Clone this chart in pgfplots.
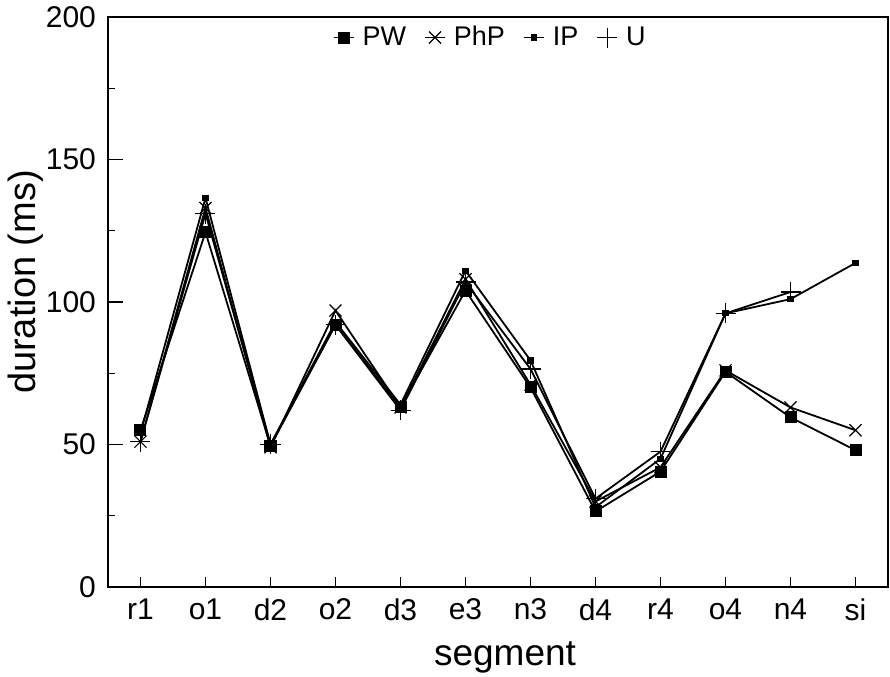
\documentclass[border=0pt]{standalone}
\usepackage{pgfplots}
\pgfplotsset{compat=1.18}
\usepackage{fontspec}
\setmainfont{Liberation Sans}
\begin{document}
\begin{tikzpicture}
\begin{axis}[
  name=ax,
  scale only axis, width=390pt, height=285pt,
  xmin=-0.5, xmax=11.5, ymin=0, ymax=200,
  xtick={0,...,11},
  xticklabels={r1,o1,d2,o2,d3,e3,n3,d4,r4,o4,n4,si},
  ytick={0,50,100,150,200}, minor ytick={25,75,125,175},
  tick align=inside, xtick pos=bottom, ytick pos=left,
  major tick length=7.5pt, minor tick length=3.5pt,
  xtick style={/pgfplots/major tick length=5pt},
  axis line style={line width=0.65pt},
  every tick/.style={line width=0.6pt, black},
  /pgf/number format/assume math mode=true,
  tick label style={font=\fontsize{15}{17}\selectfont},
  yticklabel style={xshift=-2.5pt},
  xticklabel style={yshift=-2.5pt},
  xlabel={segment}, ylabel={duration (ms)},
  xlabel style={font=\fontsize{18.5}{20}\selectfont, at={(axis description cs:0.509,-0.123)}, anchor=center},
  ylabel style={font=\fontsize{19}{20}\selectfont, at={(axis description cs:-0.106,0.535)}, anchor=center, rotate=0},
  legend style={draw=none, fill=none, at={(rel axis cs:0.49,0.995)}, anchor=north,
    legend columns=-1, font=\fontsize{13.5}{15}\selectfont,
    /tikz/every even column/.append style={column sep=8pt},
    /tikz/every odd column/.append style={column sep=0pt},
    nodes={inner sep=1pt}},
  legend cell align=left,
  legend image code/.code={\draw[mark repeat=2,mark phase=2,#1] plot coordinates {(0pt,0pt)(5pt,0pt)(10pt,0pt)}; \path (13pt,0pt);},
  every axis plot/.append style={black, line width=0.9pt},
]
\addplot[mark=square*, mark size=2.75pt, mark options={solid, line width=0.5pt}] coordinates {
(0,55) (1,124.5) (2,49.5) (3,92) (4,63) (5,104) (6,70) (7,26.5) (8,40.5) (9,75.5) (10,59.5) (11,48)};
\addlegendentry{PW}
\addplot[mark=x, mark size=4.25pt, mark options={solid, line width=0.6pt}] coordinates {
(0,51) (1,133) (2,49) (3,97) (4,63) (5,108) (6,71) (7,30) (8,42) (9,76) (10,63) (11,55)};
\addlegendentry{PhP}
\addplot[mark=square*, mark size=1.3pt, mark options={solid, line width=0.5pt}] coordinates {
(0,54) (1,136.5) (2,50) (3,93) (4,64) (5,111) (6,79.5) (7,28) (8,45) (9,96) (10,101) (11,113.7)};
\addlegendentry{IP}
\addplot[mark=+, mark size=5pt, mark options={solid, line width=0.6pt}] coordinates {
(0,51) (1,131) (2,50) (3,92) (4,62) (5,107) (6,76.5) (7,31) (8,47.5) (9,96) (10,103.5)};
\addlegendentry{U}
\end{axis}
\pgfresetboundingbox
\path ([shift={(-54pt,-45pt)}]ax.south west) rectangle ([shift={(1pt,8.5pt)}]ax.north east);
\end{tikzpicture}
\end{document}
